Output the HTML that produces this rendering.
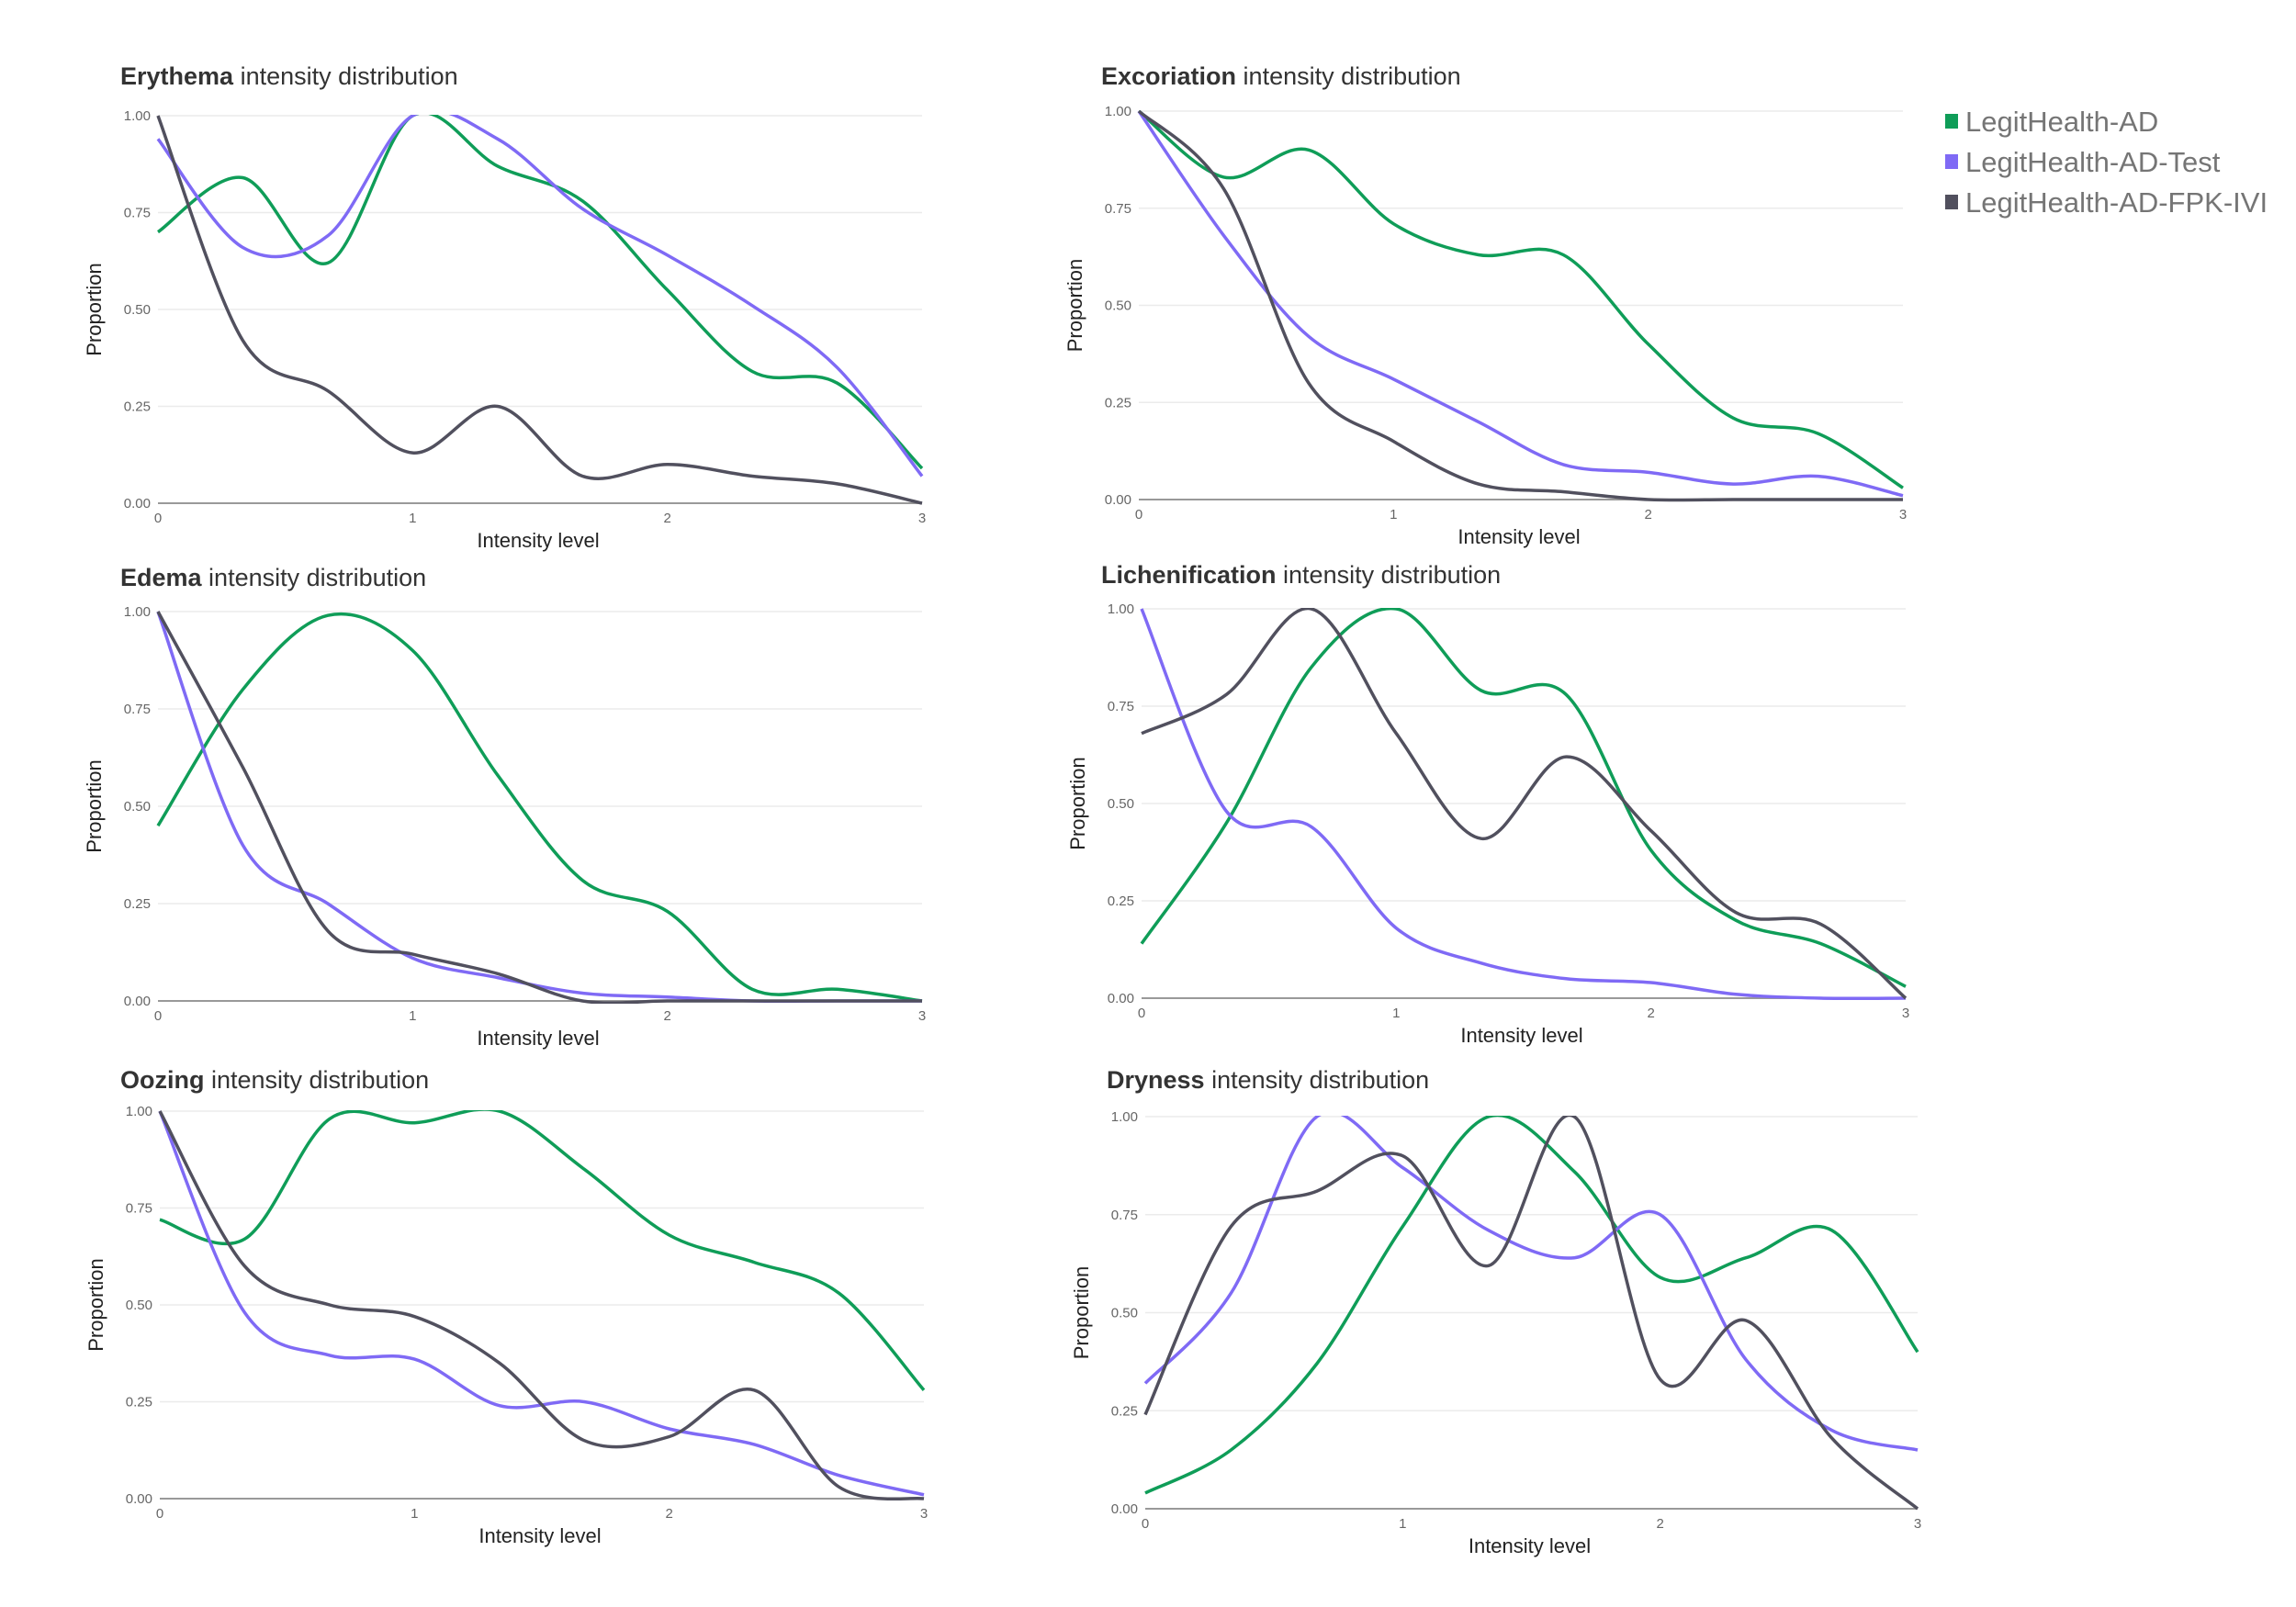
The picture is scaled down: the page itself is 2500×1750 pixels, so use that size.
<!DOCTYPE html>
<html><head><meta charset="utf-8"><style>
body{margin:0;background:#fff;width:2500px;height:1750px;overflow:hidden;font-family:"Liberation Sans",sans-serif}
svg{display:block}
</style></head><body>
<svg id="root" width="2500" height="1750" xmlns="http://www.w3.org/2000/svg"></svg>
<script>
const xs = [0, 1/3, 2/3, 1, 4/3, 5/3, 2, 7/3, 8/3, 3];
const seriesNames = ["LegitHealth-AD", "LegitHealth-AD-Test", "LegitHealth-AD-FPK-IVI"];
const chartTitles = ["Erythema", "Excoriation", "Edema", "Lichenification", "Oozing", "Dryness"];
const xTickLabels = ["0", "1", "2", "3"];
const yTickLabels = ["0.00", "0.25", "0.50", "0.75", "1.00"];
const erythemaAD = [0.70,0.84,0.62,1.0,0.87,0.78,0.55,0.34,0.31,0.09];
const erythemaTest = [0.94,0.66,0.69,1.0,0.94,0.76,0.64,0.51,0.35,0.07];
const erythemaFPK = [1.0,0.42,0.29,0.13,0.25,0.07,0.10,0.07,0.05,0.0];
const excoriationAD = [1.0,0.83,0.90,0.71,0.63,0.63,0.40,0.21,0.17,0.03];
const excoriationTest = [1.0,0.68,0.42,0.31,0.20,0.09,0.07,0.04,0.06,0.01];
const excoriationFPK = [1.0,0.80,0.30,0.15,0.04,0.02,0.0,0.0,0.0,0.0];
const edemaAD = [0.45,0.80,0.99,0.90,0.58,0.31,0.23,0.03,0.03,0.0];
const edemaTest = [1.0,0.40,0.25,0.11,0.06,0.02,0.01,0.0,0.0,0.0];
const edemaFPK = [1.0,0.60,0.18,0.12,0.07,0.0,0.0,0.0,0.0,0.0];
const lichenAD = [0.14,0.45,0.85,1.0,0.79,0.78,0.38,0.20,0.14,0.03];
const lichenTest = [1.0,0.48,0.44,0.18,0.09,0.05,0.04,0.01,0.0,0.0];
const lichenFPK = [0.68,0.78,1.0,0.68,0.41,0.62,0.43,0.22,0.19,0.0];
const oozingAD = [0.72,0.67,0.98,0.97,1.0,0.85,0.68,0.61,0.53,0.28];
const oozingTest = [1.0,0.48,0.37,0.36,0.24,0.25,0.18,0.14,0.06,0.01];
const oozingFPK = [1.0,0.60,0.50,0.47,0.35,0.15,0.16,0.28,0.03,0.0];
const drynessAD = [0.04,0.15,0.37,0.72,1.0,0.86,0.59,0.64,0.71,0.40];
const drynessTest = [0.32,0.55,1.0,0.87,0.71,0.64,0.75,0.38,0.20,0.15];
const drynessFPK = [0.24,0.72,0.81,0.90,0.62,1.0,0.33,0.48,0.18,0.0];

const colors = ["#0f9d58","#7f6af5","#51505e"];
const layouts = [
 {tx:131,ty:92,x0:172,x1:1004,y1:126,y0:548},
 {tx:1199,ty:92,x0:1240,x1:2072,y1:121,y0:544},
 {tx:131,ty:638,x0:172,x1:1004,y1:666,y0:1090},
 {tx:1199,ty:635,x0:1243,x1:2075,y1:663,y0:1087},
 {tx:131,ty:1185,x0:174,x1:1006,y1:1210,y0:1632},
 {tx:1205,ty:1185,x0:1247,x1:2088,y1:1216,y0:1643}
];
const data = [
 [erythemaAD,erythemaTest,erythemaFPK],
 [excoriationAD,excoriationTest,excoriationFPK],
 [edemaAD,edemaTest,edemaFPK],
 [lichenAD,lichenTest,lichenFPK],
 [oozingAD,oozingTest,oozingFPK],
 [drynessAD,drynessTest,drynessFPK]
];
const NS="http://www.w3.org/2000/svg";
const root=document.getElementById('root');
function mk(tag,attrs,parent){const e=document.createElementNS(NS,tag);for(const k in attrs)e.setAttribute(k,attrs[k]);(parent||root).appendChild(e);return e;}
function smooth(pts){
  let d="M"+pts[0][0].toFixed(1)+","+pts[0][1].toFixed(1);
  for(let i=0;i<pts.length-1;i++){
    const p0=pts[Math.max(0,i-1)],p1=pts[i],p2=pts[i+1],p3=pts[Math.min(pts.length-1,i+2)];
    const t=6;
    const c1=[p1[0]+(p2[0]-p0[0])/t,p1[1]+(p2[1]-p0[1])/t];
    const c2=[p2[0]-(p3[0]-p1[0])/t,p2[1]-(p3[1]-p1[1])/t];
    d+=" C"+c1[0].toFixed(1)+","+c1[1].toFixed(1)+" "+c2[0].toFixed(1)+","+c2[1].toFixed(1)+" "+p2[0].toFixed(1)+","+p2[1].toFixed(1);
  }
  return d;
}
layouts.forEach((L,ci)=>{
  const g=mk('g',{});
  
  
  const X=v=>L.x0+(L.x1-L.x0)*v/3;
  const Y=v=>L.y0-(L.y0-L.y1)*v;
  const t=mk('text',{x:L.tx,y:L.ty,'font-size':27,fill:'#333'},g);
  
  
  const b=mk('tspan',{'font-weight':'bold'},t);b.textContent=chartTitles[ci];
  const r=mk('tspan',{},t);r.textContent=" intensity distribution";
  yTickLabels.forEach((lab,i)=>{
    const v=i*0.25;
    const ln=mk('line',{x1:L.x0,x2:L.x1,y1:Y(v),y2:Y(v),stroke:i==0?'#999':'#ebebeb','stroke-width':i==0?2:1.5},g);
    
    
    const tl=mk('text',{x:L.x0-8,y:Y(v)+5,'font-size':15,fill:'#666','text-anchor':'end'},g);
    
    
    tl.textContent=lab;
  });
  xTickLabels.forEach((lab,i)=>{
    const tl=mk('text',{x:X(i),y:L.y0+21,'font-size':15,fill:'#666','text-anchor':'middle'},g);
    
    
    tl.textContent=lab;
  });
  const xt=mk('text',{x:(L.x0+L.x1)/2-2,y:L.y0+48,'font-size':22,fill:'#222','text-anchor':'middle'},g);
  
  
  xt.textContent="Intensity level";
  const cy=(L.y0+L.y1)/2;
  const yt=mk('text',{x:L.x0-62,y:cy,'font-size':22,fill:'#222','text-anchor':'middle',transform:`rotate(-90 ${L.x0-62} ${cy})`},g);
  
  
  yt.textContent="Proportion";
  const cid='clip'+ci;
  const cp=mk('clipPath',{id:cid},g);
  mk('rect',{x:L.x0-3,y:L.y1-1,width:L.x1-L.x0+6,height:L.y0-L.y1+4},cp);
  data[ci].forEach((s,si)=>{
    const pts=s.map((v,i)=>[X(xs[i]),Y(v)]);
    const p=mk('path',{d:smooth(pts),fill:'none',stroke:colors[si],'stroke-width':3.5,'clip-path':`url(#${cid})`},g);
    
    
  });
});
const lg=mk('g',{});


seriesNames.forEach((n,i)=>{
  const y=132+i*44;
  const e=mk('g',{},lg);
  
  
  mk('rect',{x:2118,y:y-8,width:14,height:16,fill:colors[i]},e);
  const t=mk('text',{x:2140,y:y+11,'font-size':31,fill:'#757575'},e);
  t.textContent=n;
});
</script>
</body></html>
